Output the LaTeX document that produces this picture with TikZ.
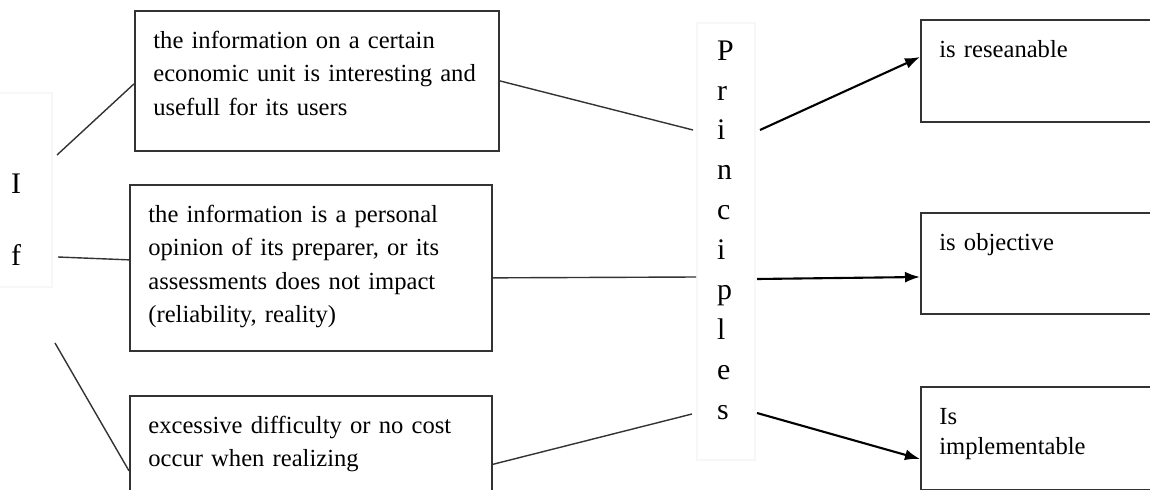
\documentclass[tikz,border=0pt]{standalone}
\usepackage{fontspec}
\setmainfont{Liberation Serif}
\usetikzlibrary{arrows.meta,positioning}

\begin{document}
\begin{tikzpicture}[
x=0.02cm, y=-0.02cm,
font=\fontsize{14}{19}\selectfont,
box/.style={draw=black!80, line width=1pt, rectangle, anchor=north west, align=left, inner xsep=0.37cm, inner ysep=0.3cm, text height=0.45cm},
ghost/.style={draw=black!3, line width=0.6pt},
link/.style={draw=black!80, line width=0.8pt},
arrow/.style={-{Latex[length=0.3cm,width=0.22cm]}, line width=1.2pt}
]
\useasboundingbox (0,0) rectangle (1150,490);
\clip (0,0) rectangle (1150,490);

% faint frames round the two words
\draw[ghost] (-5,93) rectangle (52,287);
\draw[ghost] (697,23) rectangle (755,460);

\node[align=left, font=\fontsize{17}{20}\selectfont] (cond) at (16,220) {I\\[21pt]f};
\node[align=left, anchor=west, font=\fontsize{17}{22.7}\selectfont] (prin) at (711,230) {P\\r\\i\\n\\c\\i\\p\\l\\e\\s};

\node[box, text width=6.54cm, text depth=1.75cm] (c1) at (134,10) {the information on a certain\\economic unit is interesting and\\usefull for its users};
\node[box, text width=6.50cm, text depth=2.27cm] (c2) at (129,184) {the information is a personal\\opinion of its preparer, or its\\assessments does not impact\\(reliability, reality)};
\node[box, text width=6.50cm, text depth=0.93cm] (c3) at (129,395) {excessive difficulty or no cost\\occur when realizing};

\node[box, text width=5.5cm, text depth=0.99cm] (r1) at (920,19) {is reseanable};
\node[box, text width=5.5cm, text depth=0.97cm] (r2) at (920,212) {is objective};
\node[box, text width=5.5cm, text depth=1.01cm] (r3) at (920,386) {Is\\[-2pt]implementable};

\coordinate (if1) at (57,155);
\coordinate (if2) at (58,257);
\coordinate (if3) at (55,343);
\coordinate (pin1) at (693,130);
\coordinate (pin2) at (696,277);
\coordinate (pin3) at (692,414);
\coordinate (pout1) at (760,130);
\coordinate (pout2) at (757,279);
\coordinate (pout3) at (757,413);

\draw[link] (if1) -- ([yshift=-0.06cm]c1.west);
\draw[link] (if2) -- ([yshift=0.16cm]c2.west);
\draw[link] (if3) -- ([yshift=-0.51cm]c3.west);

\draw[link] (c1.east) -- (pin1);
\draw[link] ([yshift=-0.2cm]c2.east) -- (pin2);
\draw[link] ([yshift=-0.38cm]c3.east) -- (pin3);

\draw[arrow] (pout1) -- ([yshift=-0.76cm]r1.north west);
\draw[arrow] (pout2) -- ([yshift=-1.3cm]r2.north west);
\draw[arrow] (pout3) -- ([yshift=-1.46cm]r3.north west);

\end{tikzpicture}
\end{document}
